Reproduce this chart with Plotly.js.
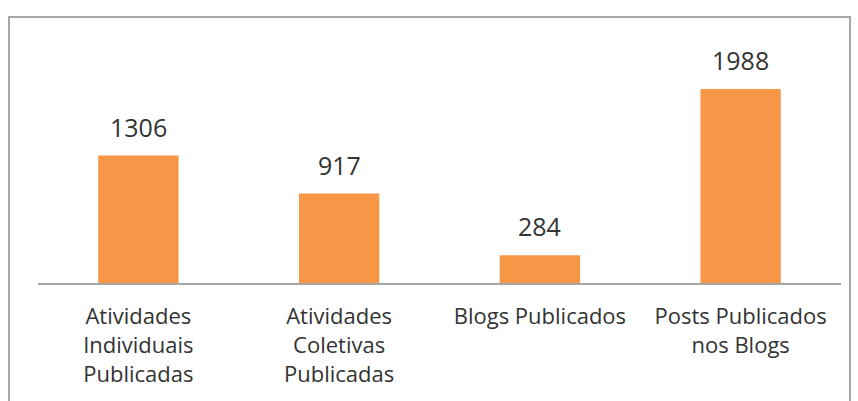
<!DOCTYPE html>
<html>
<head>
<meta charset="utf-8">
<script src="https://cdn.plot.ly/plotly-3.0.1.min.js"></script>
<style>
html,body{margin:0;padding:0;background:#fff;overflow:hidden;}
#frame{position:absolute;left:8px;top:16px;width:843px;height:400px;border:2px solid #a6a6a6;box-sizing:border-box;pointer-events:none;}
#chart{position:absolute;left:0;top:0;width:858px;height:401px;}
</style>
</head>
<body>
<div id="chart"></div>
<div id="frame"></div>
<script>
const categories = ["Atividades<br>Individuais<br>Publicadas", "Atividades<br>Coletivas<br>Publicadas", "Blogs Publicados", "Posts Publicados<br>nos Blogs"];
const values = [1306, 917, 284, 1988];
const barColor = "#F79646";
const textColor = "#333333";
const fontFamily = "'Open Sans', 'Noto Sans', sans-serif";

const trace = {
  type: "bar",
  x: categories,
  y: values,
  marker: {color: barColor, line: {width: 0}},
  hoverinfo: "skip"
};

const annotations = categories.map((c, i) => ({
  x: c, y: values[i], xref: "x", yref: "y",
  text: String(values[i]),
  showarrow: false, yanchor: "bottom", yshift: 10,
  font: {family: fontFamily, size: 25, color: textColor}
}));

const layout = {
  width: 858, height: 401,
  margin: {l: 37.5, r: 16.5, t: 40, b: 118},
  paper_bgcolor: "#fff", plot_bgcolor: "#fff",
  bargap: 0.6,
  showlegend: false,
  xaxis: {
    showline: true, linecolor: "#a6a6a6", linewidth: 2,
    ticks: "", showgrid: false, zeroline: false,
    tickfont: {family: fontFamily, size: 22, color: textColor},
    ticklabelstandoff: 13,
    fixedrange: true
  },
  yaxis: {
    range: [0, 2490], visible: false, showgrid: false, zeroline: false, fixedrange: true
  },
  annotations: annotations
};

Plotly.newPlot("chart", [trace], layout, {displayModeBar: false, staticPlot: true});
</script>
</body>
</html>
